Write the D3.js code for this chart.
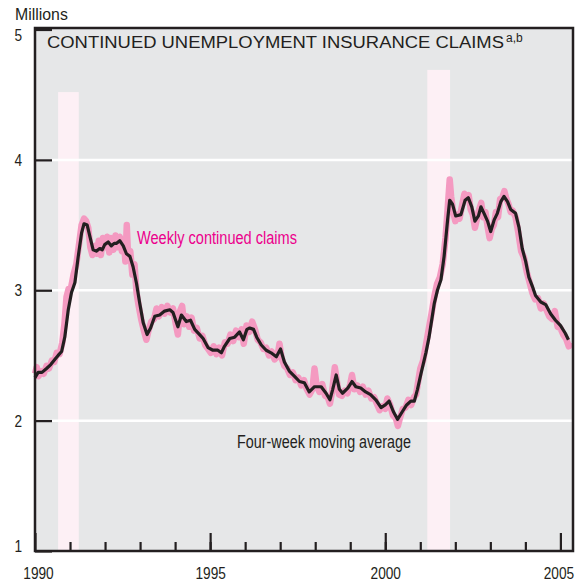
<!DOCTYPE html>
<html lang="en">
  <head>
    <meta charset="utf-8">
    <title>Continued unemployment insurance claims</title>
    <script src="https://d3js.org/d3.v7.min.js"></script>
    <style type="text/css">
      body { margin: 0; background: #fff; }
      .cond { font-family: "Liberation Sans", Arial, sans-serif; }
      .weekly { fill: none; stroke: #f49ac1; stroke-width: 6.5px; stroke-linejoin: round; }
      .avg { fill: none; stroke: #231f20; stroke-width: 3.2px; stroke-linejoin: round; }
    </style>
  </head>
  <body>
    <script>
      var w = 584;

      var h = 584;

      // four-week moving average (year, millions)
      var avgT = [1990.00, 1990.09, 1990.20, 1990.33, 1990.45, 1990.57, 1990.66, 1990.76, 1990.85, 1990.95,
        1991.04, 1991.14, 1991.23, 1991.33, 1991.40, 1991.49, 1991.57, 1991.66, 1991.75, 1991.85,
        1991.92, 1991.99, 1992.09, 1992.18, 1992.26, 1992.33, 1992.42, 1992.52, 1992.61, 1992.71,
        1992.80, 1992.90, 1992.99, 1993.09, 1993.20, 1993.30, 1993.42, 1993.56, 1993.70, 1993.85,
        1993.94, 1994.08, 1994.18, 1994.32, 1994.44, 1994.56, 1994.70, 1994.80, 1994.94, 1995.08,
        1995.22, 1995.32, 1995.41, 1995.56, 1995.70, 1995.84, 1995.95, 1996.05, 1996.13, 1996.24,
        1996.33, 1996.46, 1996.60, 1996.74, 1996.89, 1997.01, 1997.12, 1997.26, 1997.41, 1997.55,
        1997.69, 1997.83, 1997.98, 1998.10, 1998.17, 1998.31, 1998.42, 1998.50, 1998.60, 1998.69,
        1998.78, 1998.93, 1999.05, 1999.16, 1999.30, 1999.44, 1999.58, 1999.73, 1999.88, 2000.00,
        2000.11, 2000.23, 2000.35, 2000.49, 2000.61, 2000.73, 2000.83, 2000.92, 2001.02, 2001.16,
        2001.25, 2001.40, 2001.49, 2001.59, 2001.68, 2001.78, 2001.84, 2001.92, 2002.01, 2002.16,
        2002.28, 2002.37, 2002.47, 2002.56, 2002.66, 2002.73, 2002.82, 2002.92, 2003.01, 2003.11,
        2003.20, 2003.30, 2003.39, 2003.49, 2003.58, 2003.72, 2003.82, 2003.91, 2004.01, 2004.10,
        2004.20, 2004.29, 2004.44, 2004.58, 2004.72, 2004.86, 2005.00, 2005.14, 2005.23];
      var avgV = [2.33, 2.37, 2.37, 2.40, 2.43, 2.47, 2.50, 2.53, 2.64, 2.85,
        2.98, 3.06, 3.25, 3.44, 3.51, 3.50, 3.41, 3.31, 3.30, 3.32,
        3.31, 3.35, 3.37, 3.34, 3.36, 3.36, 3.38, 3.34, 3.28, 3.26,
        3.18, 3.05, 2.90, 2.75, 2.66, 2.71, 2.80, 2.81, 2.84, 2.85,
        2.83, 2.72, 2.81, 2.76, 2.77, 2.70, 2.66, 2.63, 2.56, 2.54,
        2.54, 2.52, 2.57, 2.63, 2.64, 2.68, 2.62, 2.70, 2.71, 2.70,
        2.64, 2.58, 2.54, 2.52, 2.49, 2.55, 2.45, 2.38, 2.34, 2.30,
        2.29, 2.22, 2.26, 2.26, 2.26, 2.21, 2.16, 2.24, 2.35, 2.24,
        2.21, 2.25, 2.30, 2.26, 2.25, 2.22, 2.20, 2.16, 2.10, 2.12,
        2.15, 2.07, 2.01, 2.07, 2.12, 2.15, 2.15, 2.24, 2.36, 2.52,
        2.64, 2.90, 3.00, 3.08, 3.26, 3.54, 3.69, 3.66, 3.57, 3.58,
        3.69, 3.71, 3.64, 3.53, 3.57, 3.64, 3.59, 3.53, 3.45, 3.54,
        3.59, 3.68, 3.72, 3.68, 3.62, 3.59, 3.48, 3.32, 3.22, 3.10,
        3.03, 2.96, 2.91, 2.89, 2.82, 2.77, 2.73, 2.67, 2.62];

      // weekly continued claims (year, millions)
      var weeklyT = [1990.00, 1990.05, 1990.10, 1990.18, 1990.25, 1990.33, 1990.40, 1990.48, 1990.55, 1990.62,
        1990.70, 1990.78, 1990.84, 1990.90, 1990.96, 1991.03, 1991.10, 1991.18, 1991.26, 1991.33,
        1991.40, 1991.46, 1991.52, 1991.58, 1991.64, 1991.70, 1991.76, 1991.82, 1991.88, 1991.94,
        1992.00, 1992.06, 1992.12, 1992.18, 1992.24, 1992.30, 1992.36, 1992.42, 1992.48, 1992.54,
        1992.58, 1992.62, 1992.66, 1992.72, 1992.78, 1992.84, 1992.90, 1992.96, 1993.03, 1993.10,
        1993.18, 1993.25, 1993.32, 1993.40, 1993.47, 1993.54, 1993.62, 1993.70, 1993.78, 1993.86,
        1993.94, 1994.02, 1994.08, 1994.14, 1994.20, 1994.26, 1994.33, 1994.40, 1994.47, 1994.54,
        1994.62, 1994.70, 1994.78, 1994.86, 1994.94, 1995.02, 1995.10, 1995.18, 1995.26, 1995.34,
        1995.42, 1995.50, 1995.58, 1995.66, 1995.74, 1995.82, 1995.90, 1995.96, 1996.04, 1996.12,
        1996.20, 1996.28, 1996.36, 1996.44, 1996.52, 1996.60, 1996.68, 1996.76, 1996.84, 1996.92,
        1996.98, 1997.04, 1997.12, 1997.20, 1997.28, 1997.36, 1997.44, 1997.52, 1997.60, 1997.68,
        1997.76, 1997.84, 1997.92, 1997.98, 1998.04, 1998.12, 1998.20, 1998.28, 1998.36, 1998.42,
        1998.48, 1998.56, 1998.62, 1998.68, 1998.76, 1998.84, 1998.92, 1999.00, 1999.05, 1999.12,
        1999.20, 1999.28, 1999.36, 1999.44, 1999.52, 1999.60, 1999.68, 1999.76, 1999.84, 1999.92,
        2000.00, 2000.06, 2000.14, 2000.22, 2000.30, 2000.36, 2000.42, 2000.50, 2000.58, 2000.66,
        2000.74, 2000.82, 2000.88, 2000.94, 2001.00, 2001.08, 2001.16, 2001.24, 2001.32, 2001.40,
        2001.48, 2001.56, 2001.64, 2001.72, 2001.78, 2001.84, 2001.88, 2001.94, 2002.00, 2002.06,
        2002.12, 2002.20, 2002.26, 2002.32, 2002.38, 2002.44, 2002.50, 2002.56, 2002.62, 2002.68,
        2002.74, 2002.80, 2002.86, 2002.92, 2002.98, 2003.04, 2003.10, 2003.16, 2003.22, 2003.28,
        2003.34, 2003.40, 2003.46, 2003.52, 2003.58, 2003.64, 2003.72, 2003.80, 2003.88, 2003.96,
        2004.04, 2004.12, 2004.20, 2004.28, 2004.36, 2004.44, 2004.52, 2004.60, 2004.68, 2004.76,
        2004.84, 2004.92, 2005.00, 2005.08, 2005.16, 2005.24, 2005.28];
      var weeklyV = [2.36, 2.41, 2.34, 2.38, 2.36, 2.42, 2.40, 2.46, 2.45, 2.52,
        2.51, 2.60, 2.74, 2.95, 3.01, 3.02, 3.12, 3.20, 3.36, 3.50,
        3.55, 3.53, 3.48, 3.33, 3.27, 3.34, 3.28, 3.38, 3.27, 3.40,
        3.33, 3.41, 3.29, 3.40, 3.31, 3.42, 3.33, 3.41, 3.30, 3.37,
        3.22, 3.50, 3.25, 3.30, 3.12, 3.20, 2.98, 2.88, 2.78, 2.70,
        2.62, 2.70, 2.76, 2.78, 2.86, 2.80, 2.87, 2.82, 2.88, 2.83,
        2.86, 2.74, 2.66, 2.84, 2.88, 2.74, 2.80, 2.72, 2.79, 2.69,
        2.71, 2.63, 2.65, 2.58, 2.55, 2.52, 2.57, 2.51, 2.56, 2.50,
        2.60, 2.59, 2.66, 2.61, 2.69, 2.64, 2.70, 2.59, 2.73, 2.68,
        2.76, 2.70, 2.62, 2.60, 2.55, 2.56, 2.50, 2.53, 2.47, 2.49,
        2.59, 2.48, 2.42, 2.40, 2.35, 2.37, 2.31, 2.33, 2.27, 2.31,
        2.24, 2.20, 2.24, 2.40, 2.27, 2.22, 2.28, 2.19, 2.18, 2.13,
        2.22, 2.41, 2.30, 2.20, 2.19, 2.23, 2.21, 2.28, 2.35, 2.24,
        2.27, 2.22, 2.26, 2.20, 2.23, 2.17, 2.18, 2.13, 2.08, 2.11,
        2.09, 2.17, 2.12, 2.04, 2.02, 1.96, 2.02, 2.09, 2.10, 2.16,
        2.12, 2.18, 2.20, 2.30, 2.40, 2.46, 2.58, 2.70, 2.82, 2.95,
        3.05, 3.10, 3.20, 3.40, 3.62, 3.85, 3.72, 3.60, 3.53, 3.58,
        3.55, 3.66, 3.74, 3.70, 3.73, 3.62, 3.58, 3.48, 3.55, 3.62,
        3.67, 3.56, 3.60, 3.49, 3.40, 3.47, 3.50, 3.60, 3.56, 3.70,
        3.71, 3.76, 3.70, 3.66, 3.60, 3.61, 3.56, 3.44, 3.30, 3.25,
        3.14, 3.06, 2.98, 2.93, 2.94, 2.86, 2.90, 2.85, 2.80, 2.78,
        2.84, 2.72, 2.71, 2.66, 2.63, 2.57, 2.60];

      // recessions: [start, end, top of shading]
      var recessions = [[1990.66, 1991.25, 4.52], [2001.20, 2001.85, 4.69]];

      var yTicks = [1, 2, 3, 4, 5];
      var gridTicks = [2, 3, 4];
      var minorYears = d3.range(1991, 2005);
      var labelYears = [1990, 1995, 2000, 2005];

      // squeeze a label to the narrow width used in the original
      function narrow(sel, perChar) {
        sel.each(function() {
          var t = d3.select(this);
          t.attr("textLength", t.text().length * perChar)
           .attr("lengthAdjust", "spacingAndGlyphs");
        });
      }

      var svg = d3.select("body").append("svg")
          .attr("width", w).attr("height", h);

      var xScale = d3.scaleLinear()
        .domain([1990, 2005.36])
        .range([35, 573]);

      var yScale = d3.scaleLinear()
        .domain([1, 5])
        .range([551, 29.5]);

      // plot background
      svg.append("rect")
         .attr("x", 35).attr("y", 28)
         .attr("width", 538).attr("height", 523)
         .attr("fill", "#e6e7e8");

      svg.selectAll(".rec")
         .data(recessions)
         .enter().append("rect")
         .attr("x", d => xScale(d[0]))
         .attr("y", d => yScale(d[2]))
         .attr("width", d => xScale(d[1]) - xScale(d[0]))
         .attr("height", d => yScale(1) - yScale(d[2]))
         .attr("fill", "#fdf0f5");

      svg.selectAll(".grid")
         .data(gridTicks)
         .enter().append("line")
         .attr("x1", 52).attr("x2", 573)
         .attr("y1", d => yScale(d)).attr("y2", d => yScale(d))
         .attr("stroke", "#fff").attr("stroke-width", 2.5);

      var weekly = weeklyT.map((t, i) => [t, weeklyV[i]]);
      var avg = avgT.map((t, i) => [t, avgV[i]]);

      var lineGen = d3.line()
        .x(d => xScale(d[0]))
        .y(d => yScale(d[1]));

      svg.append("path").datum(weekly).attr("d", lineGen).attr("class", "weekly");
      svg.append("path").datum(avg).attr("d", lineGen).attr("class", "avg");

      // frame
      svg.append("rect")
         .attr("x", 35).attr("y", 28)
         .attr("width", 538).attr("height", 523)
         .attr("fill", "none").attr("stroke", "#231f20").attr("stroke-width", 2.5);

      // x axis: minor year ticks, then major ticks with labels
      var xMinor = svg.append("g").attr("transform", "translate(0,551)")
         .call(d3.axisBottom(xScale).tickValues(minorYears).tickSize(-9).tickFormat(""));
      var xMajor = svg.append("g").attr("transform", "translate(0,551)")
         .call(d3.axisBottom(xScale).tickValues(labelYears).tickSize(-18).tickPadding(16).tickFormat(d3.format("d")));
      [xMinor, xMajor].forEach(function(g) {
        g.select(".domain").remove();
        g.selectAll("line").attr("stroke", "#231f20").attr("stroke-width", 2.2);
      });
      xMajor.selectAll("text")
         .attr("class", "cond").attr("font-size", 17).attr("fill", "#231f20")
         .attr("dx", d => d == 1990 ? 3 : (d == 2005 ? -2 : 0))
         .call(narrow, 7.6);

      var yAxis = svg.append("g").attr("transform", "translate(35,0)")
         .call(d3.axisLeft(yScale).tickValues(yTicks).tickSize(-17).tickPadding(13)
           .tickFormat(d3.format("d")));
      yAxis.select(".domain").remove();
      yAxis.selectAll("line").attr("stroke", "#231f20").attr("stroke-width", 2.2);
      yAxis.selectAll("text")
         .attr("class", "cond").attr("font-size", 17).attr("fill", "#231f20")
         .attr("y", d => d == 5 ? 6 : (d == 1 ? -5 : 0))
         .call(narrow, 7.6);

      svg.append("text")
         .attr("class", "cond")
         .attr("x", 15).attr("y", 20)
         .attr("font-size", 16).attr("fill", "#231f20")
         .text("Millions")
         .call(narrow, 6.6);

      svg.append("text")
         .attr("x", 47).attr("y", 48)
         .attr("font-family", "Liberation Sans, Arial, sans-serif")
         .attr("font-size", 16.3).attr("fill", "#231f20")
         .attr("textLength", 457).attr("lengthAdjust", "spacingAndGlyphs")
         .text("CONTINUED UNEMPLOYMENT INSURANCE CLAIMS");
      svg.append("text")
         .attr("x", 506).attr("y", 42)
         .attr("font-family", "Liberation Sans, Arial, sans-serif")
         .attr("font-size", 12).attr("fill", "#231f20")
         .text("a,b");

      svg.append("text")
         .attr("class", "cond")
         .attr("x", 137).attr("y", 244)
         .attr("font-size", 17.5).attr("fill", "#ec008c")
         .attr("textLength", 160).attr("lengthAdjust", "spacingAndGlyphs")
         .text("Weekly continued claims");

      svg.append("text")
         .attr("class", "cond")
         .attr("x", 237).attr("y", 448)
         .attr("font-size", 17.5).attr("fill", "#231f20")
         .attr("textLength", 174).attr("lengthAdjust", "spacingAndGlyphs")
         .text("Four-week moving average");

    </script>

  </body>
</html>
